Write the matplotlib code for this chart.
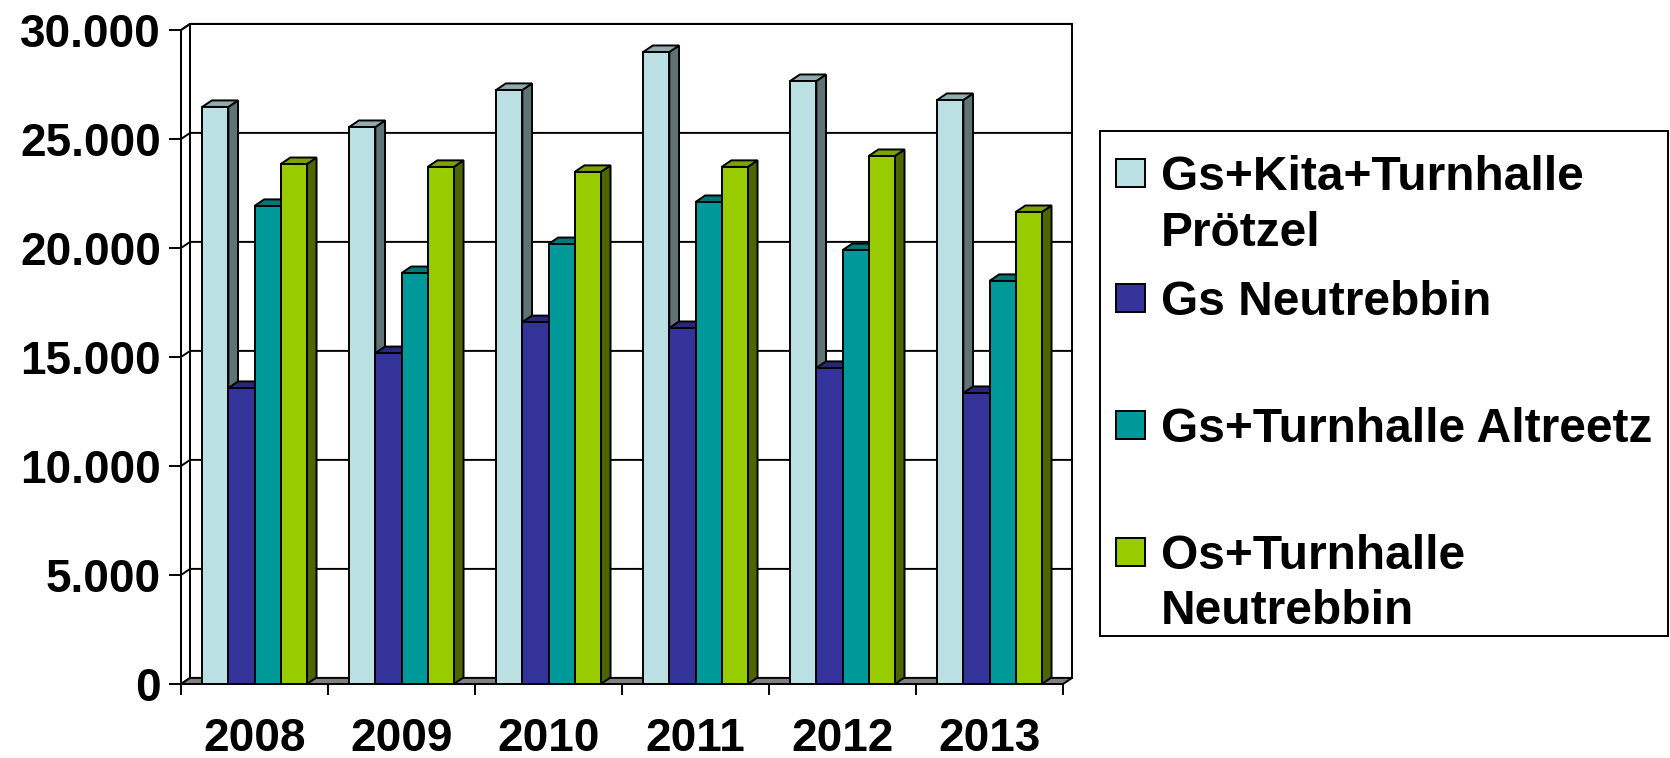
import matplotlib
matplotlib.use("Agg")
import matplotlib.pyplot as plt
from matplotlib.patches import Polygon, Rectangle
from matplotlib.lines import Line2D
import numpy as np

plt.rcParams['font.family'] = ['Liberation Sans', 'DejaVu Sans']
plt.rcParams['font.weight'] = 'bold'

# ---------------- data ----------------
years = ['2008', '2009', '2010', '2011', '2012', '2013']
series_names = ['Gs+Kita+Turnhalle\nPrötzel', 'Gs Neutrebbin',
                'Gs+Turnhalle Altreetz', 'Os+Turnhalle\nNeutrebbin']
gs_kita_proetzel = [26470, 25550, 27250, 28990, 27660, 26790]
gs_neutrebbin = [13580, 15180, 16600, 16330, 14500, 13350]
gs_turnhalle_altreetz = [21930, 18850, 20180, 22110, 19900, 18490]
os_turnhalle_neutrebbin = [23850, 23720, 23490, 23720, 24220, 21650]
y_ticks = [0, 5000, 10000, 15000, 20000, 25000, 30000]
y_tick_labels = ['0', '5.000', '10.000', '15.000', '20.000', '25.000', '30.000']

series = [gs_kita_proetzel, gs_neutrebbin, gs_turnhalle_altreetz, os_turnhalle_neutrebbin]

# ---------------- style ----------------
front_colors = ['#BBE0E3', '#333399', '#009999', '#99CC00']
top_colors = ['#8FABAE', '#28287A', '#007878', '#7AA300']
side_colors = ['#5F7374', '#1E1E5C', '#005A5A', '#4D6600']
lw = 1.4

W, H = 1670, 758
fig = plt.figure(figsize=(W / 100, H / 100), dpi=100)
ax = fig.add_axes([181 / W, 1 - 684 / H, 882 / W, 654 / H])
ax.set_xlim(0, len(years))
ax.set_ylim(0, 30000)

wdx, wdy = 0.062, 280     # wall depth offset (data units)
bdx, bdy = 0.066, 300     # bar depth offset
ymax = y_ticks[-1]
n = len(years)

# walls and floor
ax.add_patch(Polygon([(0, 0), (wdx, wdy), (wdx, ymax + wdy), (0, ymax)],
                     closed=True, facecolor='white', edgecolor='black', lw=lw,
                     clip_on=False, zorder=1))
ax.add_patch(Polygon([(wdx, wdy), (n + wdx, wdy), (n + wdx, ymax + wdy), (wdx, ymax + wdy)],
                     closed=True, facecolor='white', edgecolor='black', lw=lw,
                     clip_on=False, zorder=1))
ax.add_patch(Polygon([(0, 0), (wdx, wdy), (n + wdx, wdy), (n, 0)],
                     closed=True, facecolor='#808080', edgecolor='black', lw=lw,
                     clip_on=False, zorder=1.5))
for yv in y_ticks[1:]:
    ax.add_line(Line2D([0, wdx, n + wdx], [yv, yv + wdy, yv + wdy], color='black',
                       lw=lw, clip_on=False, zorder=1.2))

# bars
bw = 0.178
off = (1 - 4 * bw) / 2
xs = np.arange(n)
for j, vals in enumerate(series):
    z = 3 + j
    for i, v in enumerate(vals):
        x0 = xs[i] + off + j * bw
        x1 = x0 + bw
        side = [(x1, 0), (x1 + bdx, bdy), (x1 + bdx, v + bdy), (x1, v)]
        top = [(x0, v), (x0 + bdx, v + bdy), (x1 + bdx, v + bdy), (x1, v)]
        ax.add_patch(Polygon(side, closed=True, facecolor=side_colors[j],
                             edgecolor='black', lw=lw, clip_on=False, zorder=z))
        ax.add_patch(Polygon(top, closed=True, facecolor=top_colors[j],
                             edgecolor='black', lw=lw, clip_on=False, zorder=z))
    ax.bar(xs + off + j * bw, vals, width=bw, align='edge', color=front_colors[j],
           edgecolor='black', linewidth=lw, zorder=z, clip_on=False)

# axes / ticks
for s in ['top', 'right']:
    ax.spines[s].set_visible(False)
for s in ['left', 'bottom']:
    ax.spines[s].set_linewidth(lw)
    ax.spines[s].set_zorder(10)
ax.set_yticks(y_ticks)
ax.set_yticklabels(y_tick_labels, fontsize=33, fontweight='bold')
ax.tick_params(axis='y', length=8.5, width=lw, pad=6)
ax.set_xticks(np.arange(n + 1))
ax.set_xticklabels([])
ax.tick_params(axis='x', which='major', length=8, width=lw)
ax.set_xticks(xs + 0.5, minor=True)
ax.set_xticklabels(years, minor=True, fontsize=33, fontweight='bold')
ax.tick_params(axis='x', which='minor', length=0, pad=24)
ax.patch.set_visible(False)

# legend (drawn manually to match layout)
fig.patches.append(Rectangle((1100 / W, 1 - 636 / H), 568 / W, 505 / H,
                             transform=fig.transFigure, facecolor='white',
                             edgecolor='black', lw=lw))
first_baselines = [190, 315, 442, 569]
for j, name in enumerate(series_names):
    yc = first_baselines[j] - 17
    fig.patches.append(Rectangle((1116 / W, 1 - (yc + 14) / H), 29 / W, 28 / H,
                                 transform=fig.transFigure, facecolor=front_colors[j],
                                 edgecolor='black', lw=lw))
    fig.text(1161 / W, 1 - (first_baselines[j] - 35) / H, name, fontsize=34.5,
             fontweight='bold', va='top', ha='left', linespacing=1.3)

fig.savefig('out.png', dpi=100, facecolor='white')
